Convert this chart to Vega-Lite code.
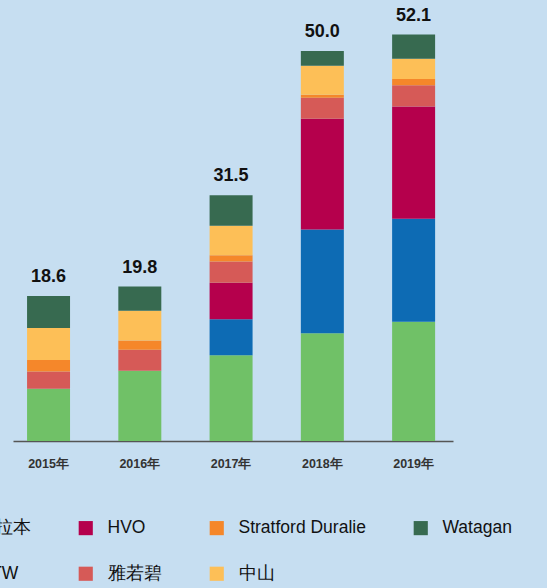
{
  "$schema": "https://vega.github.io/schema/vega-lite/v6.json",
  "autosize": {"type": "none"},
  "width": 440,
  "height": 429,
  "padding": {"left": 13, "top": 12, "right": 94, "bottom": 147},
  "background": "#C6DEF1",
  "config": {
    "view": {"stroke": null},
    "font": "Liberation Sans"
  },
  "datasets": {
    "segments": [
      {"year": "2015年", "mine": "莫拉本", "k": 1, "value": 6.7},
      {"year": "2015年", "mine": "雅若碧", "k": 4, "value": 2.2},
      {"year": "2015年", "mine": "Stratford Duralie", "k": 5, "value": 1.5},
      {"year": "2015年", "mine": "中山", "k": 6, "value": 4.1},
      {"year": "2015年", "mine": "Watagan", "k": 7, "value": 4.1},
      {"year": "2016年", "mine": "莫拉本", "k": 1, "value": 9.0},
      {"year": "2016年", "mine": "雅若碧", "k": 4, "value": 2.7},
      {"year": "2016年", "mine": "Stratford Duralie", "k": 5, "value": 1.2},
      {"year": "2016年", "mine": "中山", "k": 6, "value": 3.8},
      {"year": "2016年", "mine": "Watagan", "k": 7, "value": 3.1},
      {"year": "2017年", "mine": "莫拉本", "k": 1, "value": 11.0},
      {"year": "2017年", "mine": "MTW", "k": 2, "value": 4.6},
      {"year": "2017年", "mine": "HVO", "k": 3, "value": 4.7},
      {"year": "2017年", "mine": "雅若碧", "k": 4, "value": 2.7},
      {"year": "2017年", "mine": "Stratford Duralie", "k": 5, "value": 0.8},
      {"year": "2017年", "mine": "中山", "k": 6, "value": 3.8},
      {"year": "2017年", "mine": "Watagan", "k": 7, "value": 3.9},
      {"year": "2018年", "mine": "莫拉本", "k": 1, "value": 13.8},
      {"year": "2018年", "mine": "MTW", "k": 2, "value": 13.3},
      {"year": "2018年", "mine": "HVO", "k": 3, "value": 14.2},
      {"year": "2018年", "mine": "雅若碧", "k": 4, "value": 2.7},
      {"year": "2018年", "mine": "Stratford Duralie", "k": 5, "value": 0.4},
      {"year": "2018年", "mine": "中山", "k": 6, "value": 3.7},
      {"year": "2018年", "mine": "Watagan", "k": 7, "value": 1.9},
      {"year": "2019年", "mine": "莫拉本", "k": 1, "value": 15.3},
      {"year": "2019年", "mine": "MTW", "k": 2, "value": 13.2},
      {"year": "2019年", "mine": "HVO", "k": 3, "value": 14.4},
      {"year": "2019年", "mine": "雅若碧", "k": 4, "value": 2.7},
      {"year": "2019年", "mine": "Stratford Duralie", "k": 5, "value": 0.8},
      {"year": "2019年", "mine": "中山", "k": 6, "value": 2.6},
      {"year": "2019年", "mine": "Watagan", "k": 7, "value": 3.1}
    ],
    "totals": [
      {"year": "2015年", "total": 18.6},
      {"year": "2016年", "total": 19.8},
      {"year": "2017年", "total": 31.5},
      {"year": "2018年", "total": 50.0},
      {"year": "2019年", "total": 52.1}
    ]
  },
  "layer": [
    {
      "data": {"name": "segments"},
      "mark": {"type": "bar"},
      "encoding": {
        "x": {
          "field": "year",
          "type": "nominal",
          "sort": null,
          "scale": {"paddingInner": 0.529, "paddingOuter": 0.175, "align": 0.44},
          "axis": {
            "title": null,
            "ticks": false,
            "labelAngle": 0,
            "labelFontSize": 12.5,
            "labelFontWeight": "bold",
            "labelColor": "#333333",
            "labelPadding": 16,
            "domainColor": "#555555",
            "domainWidth": 1.5
          }
        },
        "y": {
          "field": "value",
          "type": "quantitative",
          "stack": "zero",
          "scale": {"domain": [0, 55], "nice": false},
          "axis": null
        },
        "order": {"field": "k", "type": "quantitative", "sort": "ascending"},
        "color": {
          "field": "mine",
          "type": "nominal",
          "scale": {
            "domain": ["莫拉本", "HVO", "Stratford Duralie", "Watagan", "MTW", "雅若碧", "中山"],
            "range": ["#70C167", "#B5004C", "#F5872A", "#376A50", "#0D6BB4", "#D65A57", "#FDBF57"]
          },
          "legend": {
            "title": null,
            "orient": "none",
            "legendX": -67,
            "legendY": 507,
            "direction": "horizontal",
            "columns": 4,
            "padding": 0,
            "columnPadding": 46,
            "rowPadding": 27,
            "symbolType": "square",
            "symbolSize": 200,
            "symbolStrokeWidth": 0,
            "labelFontSize": 17.5,
            "labelColor": "#111111",
            "labelOffset": 13,
            "labelLimit": 300
          }
        }
      }
    },
    {
      "data": {"name": "totals"},
      "mark": {"type": "text", "baseline": "bottom", "dy": -10, "fontSize": 18, "fontWeight": "bold", "color": "#111111"},
      "encoding": {
        "x": {"field": "year", "type": "nominal", "sort": null},
        "y": {"field": "total", "type": "quantitative"},
        "text": {"field": "total", "type": "quantitative", "format": ".1f"}
      }
    }
  ]
}
